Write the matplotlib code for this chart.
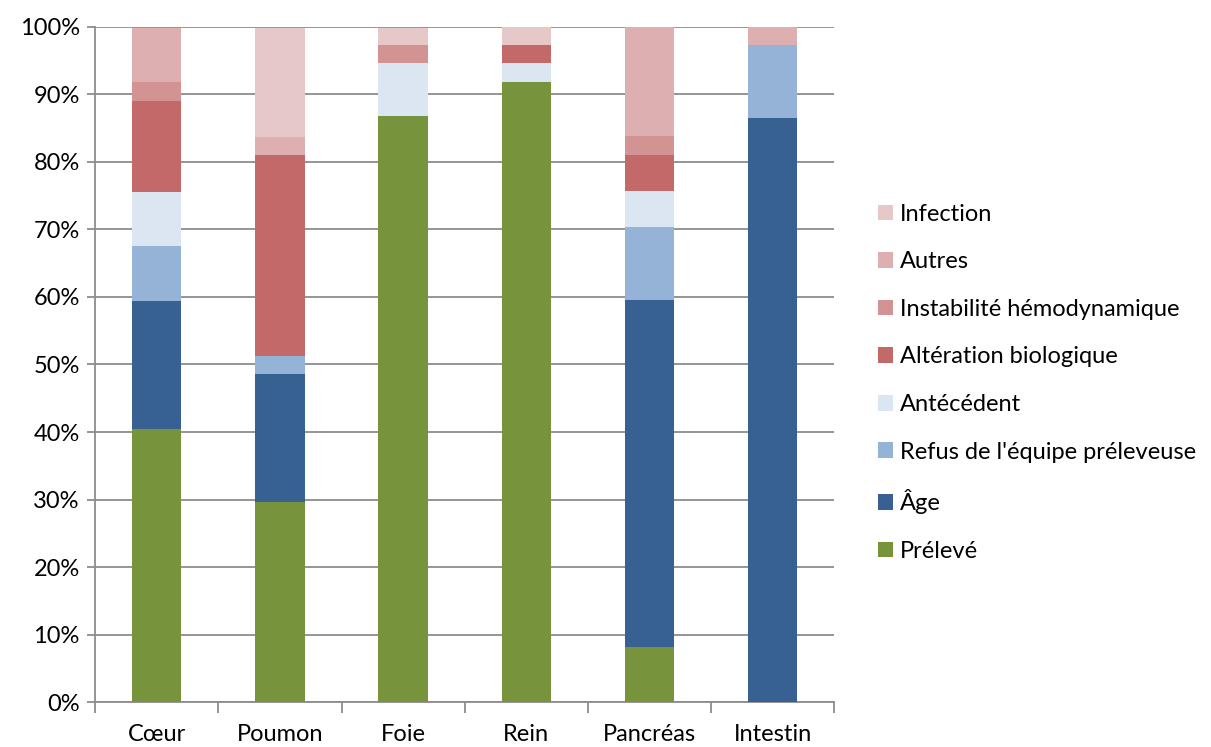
import numpy as np
import matplotlib.pyplot as plt
from matplotlib.ticker import PercentFormatter

plt.rcParams['font.family'] = ['Lato', 'DejaVu Sans']

organes = ['Cœur', 'Poumon', 'Foie', 'Rein', 'Pancréas', 'Intestin']

# parts en %, de bas en haut
preleve = [40.5, 29.7, 86.8, 91.9, 8.1, 0.0]
age = [18.9, 18.9, 0.0, 0.0, 51.4, 86.5]
refus = [8.1, 2.7, 0.0, 0.0, 10.8, 10.8]
antecedent = [8.1, 0.0, 7.9, 2.7, 5.4, 0.0]
alteration = [13.5, 29.7, 0.0, 2.7, 5.4, 0.0]
instabilite = [2.7, 0.0, 2.6, 0.0, 2.7, 0.0]
autres = [8.1, 2.7, 0.0, 0.0, 16.2, 2.7]
infection = [0.0, 16.2, 2.6, 2.7, 0.0, 0.0]

series = [
    ('Prélevé', preleve, '#77933c'),
    ('Âge', age, '#366192'),
    ("Refus de l'équipe préleveuse", refus, '#95b3d7'),
    ('Antécédent', antecedent, '#dce6f2'),
    ('Altération biologique', alteration, '#c4696a'),
    ('Instabilité hémodynamique', instabilite, '#d39393'),
    ('Autres', autres, '#ddafb0'),
    ('Infection', infection, '#e6c8c9'),
]

fig = plt.figure(figsize=(12.11, 7.47), dpi=100)
ax = fig.add_axes([0.0785, 0.0602, 0.6105, 0.9037])

x = np.arange(len(organes))
bottom = np.zeros(len(organes))
handles = []
for name, vals, color in series:
    vals = np.array(vals)
    h = ax.bar(x, vals, 0.4, bottom=bottom, color=color, label=name, zorder=3)
    handles.append(h)
    bottom += vals

ax.set_xlim(-0.5, 5.5)
ax.set_ylim(0, 100)
ax.set_yticks(np.arange(0, 101, 10))
ax.yaxis.set_major_formatter(PercentFormatter(decimals=0))
ax.grid(axis='y', color='#8c8c8c', linewidth=1.3, zorder=0)

ax.set_xticks(x)
ax.set_xticklabels(organes)
ax.set_xticks(np.arange(-0.5, 6, 1), minor=True)
ax.tick_params(axis='x', which='major', length=0, pad=16, labelsize=17)
ax.tick_params(axis='x', which='minor', length=8, color='#8c8c8c', width=1.3)
ax.tick_params(axis='y', length=6, color='#8c8c8c', width=1.3, labelsize=17, pad=5)

for side in ['top', 'right']:
    ax.spines[side].set_visible(False)
for side in ['left', 'bottom']:
    ax.spines[side].set_color('#8c8c8c')
    ax.spines[side].set_linewidth(1.3)

ax.legend(handles[::-1], [s[0] for s in series][::-1], loc='center left',
          bbox_to_anchor=(1.03, 0.473), frameon=False, fontsize=17,
          handlelength=0.65, handleheight=0.65, handletextpad=0.3,
          labelspacing=1.125)

fig.savefig('out.png', dpi=100)
